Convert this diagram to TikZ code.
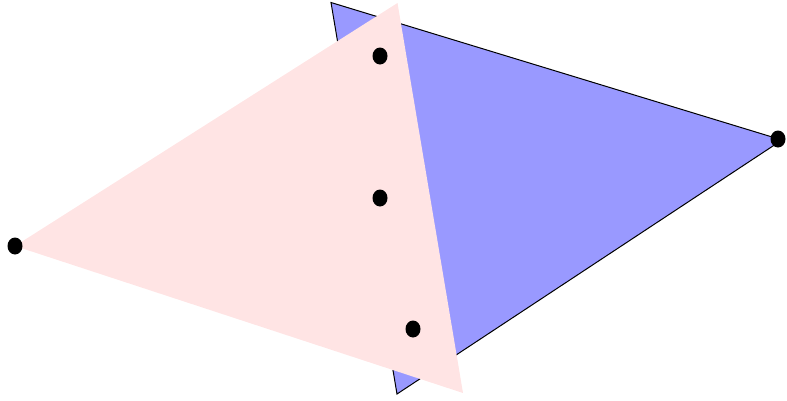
\documentclass[tikz,border=0pt]{standalone}
\begin{document}
\begin{tikzpicture}[x=1pt,y=-1pt,
  dot/.style={fill=black,draw=none,ellipse,minimum width=15pt,minimum height=17pt,inner sep=0pt},
  bluetri/.style={fill={rgb,255:red,153;green,153;blue,255},draw=black,line width=1pt,line join=miter},
  pinktri/.style={fill={rgb,255:red,255;green,228;blue,228},draw=none}]
\useasboundingbox (0,0) rectangle (787,400);
\coordinate (b1) at (331,2.5);
\coordinate (b2) at (782,140);
\coordinate (b3) at (397,394);
\coordinate (p1) at (397.5,3);
\coordinate (p2) at (15,246);
\coordinate (p3) at (463,393);
\fill[bluetri] (b1) -- (b2) -- (b3) -- cycle;
\fill[pinktri] (p1) -- (p2) -- (p3) -- cycle;
\fill (380,56) ellipse [x radius=7.5, y radius=8.5];
\fill (778,139) ellipse [x radius=7.5, y radius=8.5];
\fill (380,198) ellipse [x radius=7.5, y radius=8.5];
\fill (15,246) ellipse [x radius=7.5, y radius=8.5];
\fill (413,329) ellipse [x radius=7.5, y radius=8.5];
\end{tikzpicture}
\end{document}
